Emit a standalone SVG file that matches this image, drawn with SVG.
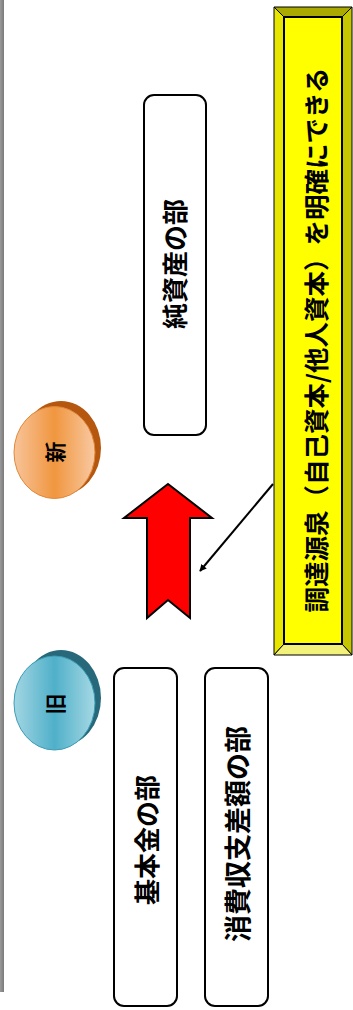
<svg xmlns="http://www.w3.org/2000/svg" width="353" height="1010" viewBox="0 0 353 1010">
<defs>
<linearGradient id="gOrange" x1="0" y1="0" x2="1" y2="0">
<stop offset="0" stop-color="#f8c49a"/>
<stop offset="0.5" stop-color="#f0963f"/>
<stop offset="1" stop-color="#f9c9a2"/>
</linearGradient>
<linearGradient id="gTeal" x1="0" y1="0" x2="1" y2="0">
<stop offset="0" stop-color="#a3d6e3"/>
<stop offset="0.5" stop-color="#4fb0c9"/>
<stop offset="1" stop-color="#a6d8e4"/>
</linearGradient>
<linearGradient id="gBar" x1="0" y1="0" x2="1" y2="0">
<stop offset="0" stop-color="#9a9a9a"/>
<stop offset="1" stop-color="#7a7a7a"/>
</linearGradient>
<marker id="ah" viewBox="0 0 10 10" refX="9" refY="5" markerWidth="7" markerHeight="7" orient="auto" markerUnits="userSpaceOnUse">
<path d="M0,0 L10,5 L0,10 z" fill="#000"/>
</marker>
</defs>
<style>
.box{fill:#fff;stroke:#000;stroke-width:2}
.lbl{font-family:"Noto Sans CJK JP","Noto Sans CJK SC",sans-serif;font-weight:bold;fill:#000;text-anchor:middle;dominant-baseline:central}
</style>
<rect x="0" y="0" width="4" height="992" fill="url(#gBar)"/>

<g id="callout">
<polygon points="274,7 352,7 342,17 284,17" fill="#a9a900" stroke="#000" stroke-width="1"/>
<polygon points="274,7 284,17 284,644 274,655" fill="#e6e600" stroke="#000" stroke-width="1"/>
<polygon points="352,7 352,655 342,644 342,17" fill="#c6c600" stroke="#000" stroke-width="1"/>
<polygon points="274,655 284,644 342,644 352,655" fill="#f2f27a" stroke="#000" stroke-width="1"/>
<rect x="284" y="17" width="58" height="627" fill="#ffff00" stroke="#000" stroke-width="2"/>
<text class="lbl" font-size="25.5" transform="translate(314,340) rotate(-90)">調達源泉（自己資本/他人資本）を明確にできる</text>
</g>

<g id="node-junshisan">
<rect class="box" x="144" y="95" width="62" height="340" rx="10"/>
<text class="lbl" font-size="26" transform="translate(173,264) rotate(-90)">純資産の部</text>
</g>

<g id="node-kihonkin">
<rect class="box" x="114" y="668" width="63" height="338" rx="10"/>
<text class="lbl" font-size="26" transform="translate(145,840) rotate(-90)">基本金の部</text>
</g>

<g id="node-shohi">
<rect class="box" x="205" y="668" width="63" height="338" rx="10"/>
<text class="lbl" font-size="27" transform="translate(236,834) rotate(-90)">消費収支差額の部</text>
</g>

<g id="node-shin">
<ellipse cx="61" cy="448" rx="40" ry="47" fill="#b5570f"/>
<ellipse cx="54.5" cy="452.5" rx="40.5" ry="46" fill="url(#gOrange)" stroke="#e08838" stroke-width="1"/>
<text class="lbl" font-size="21" transform="translate(54,452) rotate(-90)">新</text>
</g>

<g id="node-kyu">
<ellipse cx="61" cy="698" rx="40" ry="48" fill="#27687a"/>
<ellipse cx="54.5" cy="703" rx="40.5" ry="47" fill="url(#gTeal)" stroke="#3d9db6" stroke-width="1"/>
<text class="lbl" font-size="21" transform="translate(54,704) rotate(-90)">旧</text>
</g>

<g id="connectors">
<polygon points="168,484 212,518 190,518 190,618 168,600 147,618 147,518 124,518" fill="#ff0000" stroke="#000" stroke-width="2" stroke-linejoin="miter"/>
<line x1="273" y1="484" x2="200" y2="571" stroke="#000" stroke-width="2" marker-end="url(#ah)"/>
</g>
</svg>
